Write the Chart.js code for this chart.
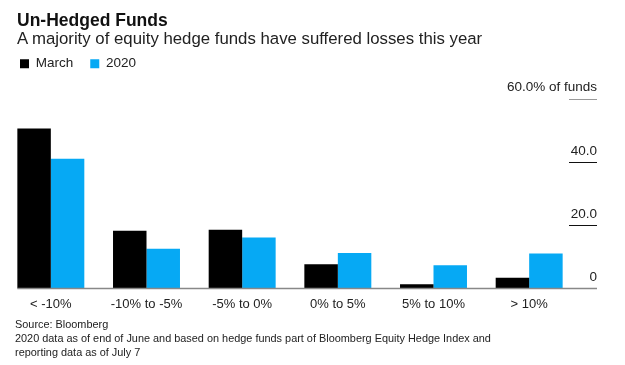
<!DOCTYPE html>
<html lang="en">
<head>
    <meta charset="UTF-8">
    <title>Un-Hedged Funds</title>
    <style>
        body { margin: 0; background: #fff; font-family: "Liberation Sans", Arial, sans-serif; }
        #wrap { position: relative; width: 625px; height: 365px; overflow: hidden; }
        #titulo { position: absolute; left: 17px; top: 10px; font-size: 17.5px; line-height: 20px; font-weight: bold; color: #111; }
        #subtitulo { position: absolute; left: 17px; top: 29px; font-size: 16.8px; line-height: 20px; color: #222; }
        #nota { position: absolute; left: 15px; top: 317px; font-size: 10.9px; line-height: 14px; color: #222; }
        canvas { position: absolute; left: 0; top: 0; }
    </style>
</head>
<body>
<div id="wrap">
    <canvas id="chart" width="625" height="322"></canvas>
    <div id="titulo">Un-Hedged Funds</div>
    <div id="subtitulo">A majority of equity hedge funds have suffered losses this year</div>
    <div id="nota">Source: Bloomberg<br>2020 data as of end of June and based on hedge funds part of Bloomberg Equity Hedge Index and<br>reporting data as of July 7</div>
</div>

<script src="https://cdn.jsdelivr.net/npm/chart.js@4.4.0/dist/chart.umd.min.js"></script>
<script>
    // datos (% de fondos)
    const categorias = ["< -10%", "-10% to -5%", "-5% to 0%", "0% to 5%", "5% to 10%", "> 10%"];
    const valoresMarzo = [50.5, 18.2, 18.5, 7.6, 1.3, 3.4];
    const valores2020 = [41.0, 12.5, 16.1, 11.2, 7.3, 11.0];
    const ticksY = [0, 20, 40, 60];

    // separa la leyenda del area de la grafica
    const espacioLeyenda = {
        id: 'espacioLeyenda',
        beforeInit(chart) {
            const fitOriginal = chart.legend.fit;
            chart.legend.fit = function fit() {
                fitOriginal.bind(chart.legend)();
                this.height += 18;
            };
        }
    };

    // lineas cortas bajo las etiquetas del eje y, y la linea base
    const lineasEje = {
        id: 'lineasEje',
        afterDatasetsDraw(chart) {
            const ctx = chart.ctx;
            const y = chart.scales.y;
            const primera = chart.getDatasetMeta(0).data[0];
            ctx.save();
            y.ticks.forEach(t => {
                const py = Math.round(y.getPixelForValue(t.value)) + 0.5;
                ctx.beginPath();
                if (t.value === 0) {
                    ctx.strokeStyle = '#888';
                    ctx.lineWidth = 1.5;
                    ctx.moveTo(primera.x - primera.width / 2, py);
                } else {
                    ctx.strokeStyle = t.value === 60 ? '#999' : '#111';
                    ctx.lineWidth = 1;
                    ctx.moveTo(y.right - 28, py);
                }
                ctx.lineTo(y.right, py);
                ctx.stroke();
            });
            ctx.restore();
        }
    };

    const data = {
        labels: categorias,
        datasets: [{
            label: 'March',
            data: valoresMarzo,
            backgroundColor: '#000000'
        }, {
            label: '2020',
            data: valores2020,
            backgroundColor: '#06a9f4'
        }]
    };

    const config = {
        type: 'bar',
        data: data,
        options: {
            responsive: false,
            animation: false,
            categoryPercentage: 0.70,
            barPercentage: 1.0,
            layout: { padding: { left: 3, right: 28, top: 40, bottom: 2 } },
            plugins: {
                legend: {
                    align: 'start',
                    labels: {
                        boxWidth: 9,
                        boxHeight: 9,
                        padding: 17,
                        color: '#222',
                        font: { family: '"Liberation Sans", Arial, sans-serif', size: 13.5 }
                    }
                },
                tooltip: { enabled: false }
            },
            scales: {
                x: {
                    grid: { display: false, drawTicks: false },
                    border: { display: false },
                    ticks: {
                        padding: 8,
                        color: '#222',
                        font: { family: '"Liberation Sans", Arial, sans-serif', size: 13 }
                    }
                },
                y: {
                    position: 'right',
                    min: 0,
                    max: 60,
                    afterFit(scale) { scale.width = 20; },
                    afterBuildTicks(scale) { scale.ticks = ticksY.map(v => ({ value: v })); },
                    grid: { display: false },
                    border: { display: false },
                    ticks: {
                        mirror: true,
                        labelOffset: -11,
                        padding: 20,
                        color: '#222',
                        font: { family: '"Liberation Sans", Arial, sans-serif', size: 13.5 },
                        callback: v => v === 60 ? '60.0% of funds' : (v === 0 ? '0' : v.toFixed(1))
                    }
                }
            }
        },
        plugins: [espacioLeyenda, lineasEje]
    };

    const chart = new Chart(document.getElementById("chart").getContext("2d"), config);
</script>
</body>
</html>
